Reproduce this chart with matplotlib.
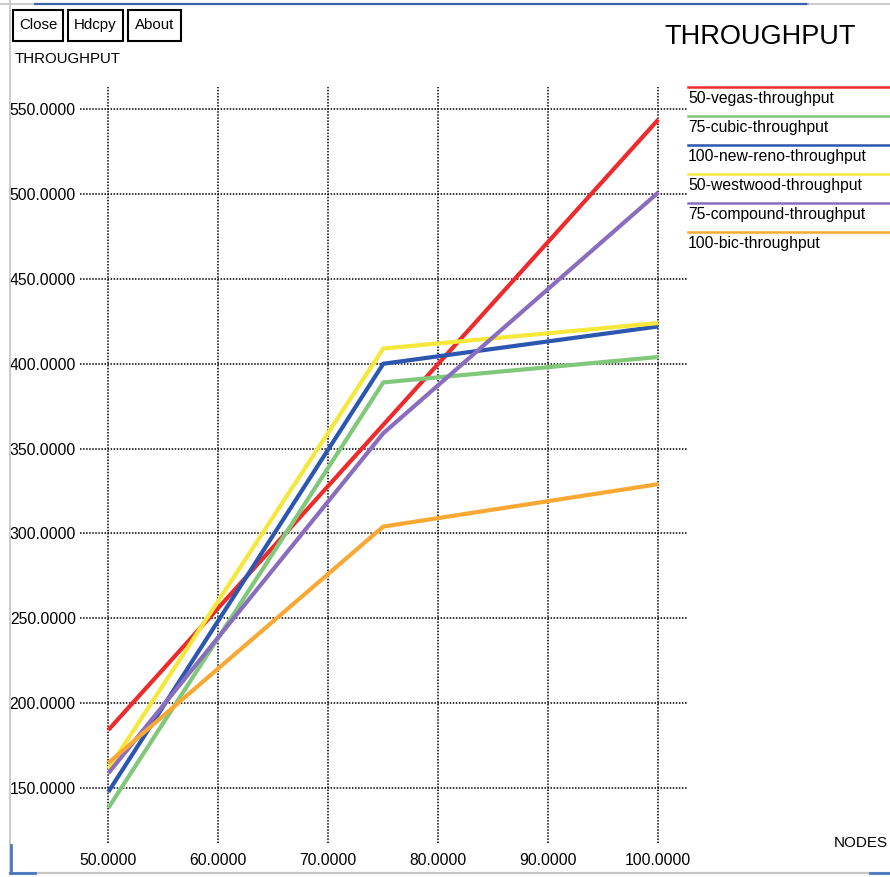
import matplotlib
matplotlib.use("Agg")
import matplotlib.pyplot as plt
from matplotlib.patches import Rectangle
from matplotlib.lines import Line2D

plt.rcParams['font.family'] = ['Liberation Sans', 'DejaVu Sans']

# Throughput per TCP variant against number of nodes
nodes = [50, 75, 100]
series_names = [
    "50-vegas-throughput",
    "75-cubic-throughput",
    "100-new-reno-throughput",
    "50-westwood-throughput",
    "75-compound-throughput",
    "100-bic-throughput",
]
vegas = [184.0, 364.0, 544.0]
cubic = [138.0, 389.0, 404.0]
new_reno = [147.5, 400.0, 422.0]
westwood = [161.0, 409.0, 424.0]
compound = [158.5, 359.0, 501.0]
bic = [164.5, 304.0, 329.0]
series_values = [vegas, cubic, new_reno, westwood, compound, bic]
series_colors = ["#ee2a2a", "#80c87a", "#2b57b0", "#f5e83a", "#8a6dbd", "#f9a933"]

x_ticks = [50, 60, 70, 80, 90, 100]
y_ticks = [150, 200, 250, 300, 350, 400, 450, 500, 550]

W, H = 890, 877
fig = plt.figure(figsize=(W / 100, H / 100), dpi=100)
fig.patch.set_facecolor("white")

# Plot area (the grid reaches slightly past the outer ticks, xgraph style)
left_px, right_px, top_px, bottom_px = 80, 687, 87, 843
ax = fig.add_axes([left_px / W, 1 - bottom_px / H,
                   (right_px - left_px) / W, (bottom_px - top_px) / H])
ax.set_xlim(47.43, 102.61)
ax.set_ylim(117.4, 563.2)
for s in ax.spines.values():
    s.set_visible(False)
ax.set_xticks(x_ticks)
ax.set_yticks(y_ticks)
ax.set_xticklabels([f"{v:.4f}" for v in x_ticks])
ax.set_yticklabels([f"{v:.4f}" for v in y_ticks])
ax.tick_params(axis="both", length=0, labelsize=11.3, colors="black")
ax.tick_params(axis="y", pad=3)
ax.tick_params(axis="x", pad=7)
ax.grid(True, color="black", linestyle=(0, (1, 1)), linewidth=1.1)
ax.set_axisbelow(True)

for vals, col in zip(series_values, series_colors):
    ax.plot(nodes, vals, color=col, linewidth=3.0, solid_capstyle="butt",
            solid_joinstyle="miter", zorder=3)

# Window decorations, buttons, labels and legend in pixel coordinates
ov = fig.add_axes([0, 0, 1, 1], zorder=5)
ov.set_xlim(0, W)
ov.set_ylim(H, 0)
ov.axis("off")
ov.patch.set_alpha(0)

gray = "#c4c4c4"
blue = "#4a78c0"
ov.add_line(Line2D([10, 10], [0, 873], color=gray, linewidth=1.2))
ov.add_line(Line2D([10, W], [873, 873], color=gray, linewidth=1.6))
ov.add_line(Line2D([11, 11], [845, 873], color=blue, linewidth=2.0))
ov.add_line(Line2D([10, 35], [873, 873], color=blue, linewidth=2.0))
ov.add_line(Line2D([870, W], [873, 873], color=blue, linewidth=2.0))
ov.add_line(Line2D([0, 35], [4, 4], color=gray, linewidth=1.2))
ov.add_line(Line2D([35, 808], [4, 4], color="#3a62a8", linewidth=1.6))
ov.add_line(Line2D([808, W], [4, 4], color=gray, linewidth=1.2))

buttons = [("Close", 13, 63), ("Hdcpy", 68, 123), ("About", 128, 181)]
for label, x0, x1 in buttons:
    ov.add_patch(Rectangle((x0, 9.5), x1 - x0, 31, fill=False,
                           edgecolor="black", linewidth=1.5))
    ov.text((x0 + x1) / 2, 25, label, ha="center", va="center",
            fontsize=10.8, color="black")

ov.text(15, 59, "THROUGHPUT", ha="left", va="center", fontsize=10.8)
ov.text(664, 37, "THROUGHPUT", ha="left", va="center", fontsize=19.5)
ov.text(834, 843, "NODES", ha="left", va="center", fontsize=11)

leg_top, leg_step = 87, 29
for i, (name, col) in enumerate(zip(series_names, series_colors)):
    y = leg_top + i * leg_step
    ov.add_line(Line2D([688, W], [y, y], color=col, linewidth=1.8))
    ov.text(688, y + 11.5, name, ha="left", va="center", fontsize=11.3)

fig.savefig("out.png", dpi=100, facecolor="white")
